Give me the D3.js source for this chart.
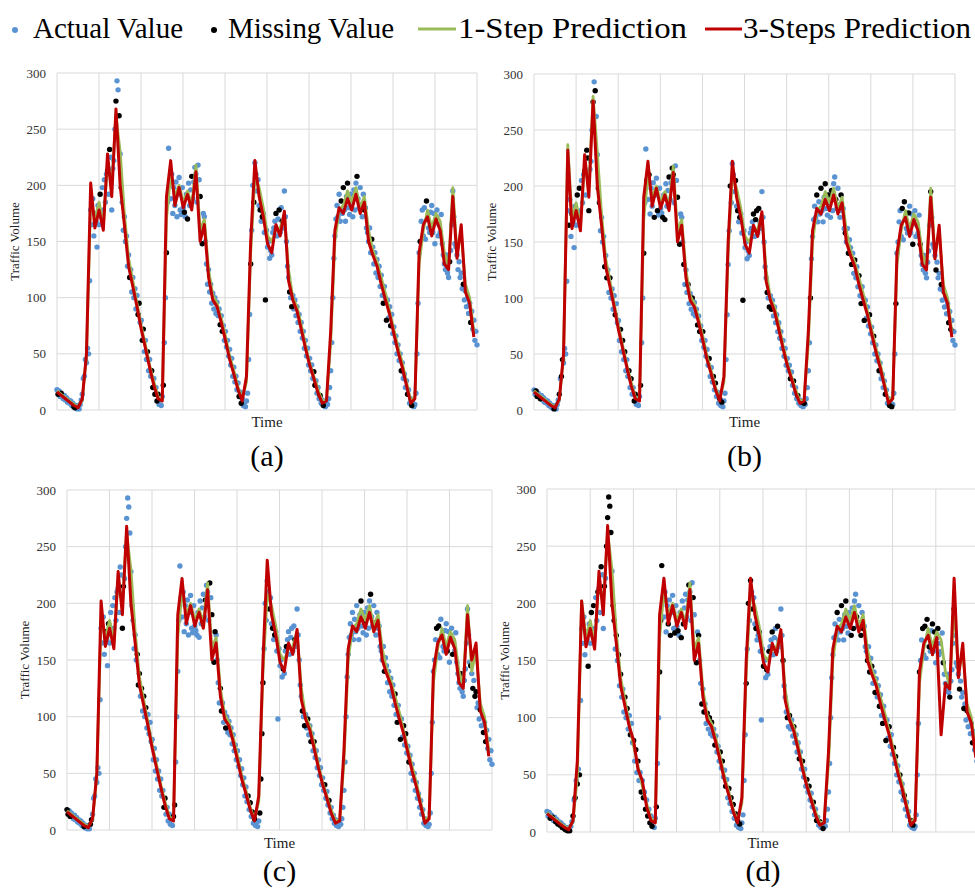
<!DOCTYPE html>
<html>
<head>
<meta charset="utf-8">
<script src="https://cdn.jsdelivr.net/npm/d3@7"></script>
<style>
  body { margin: 0; background: #fff; }
  text { font-family: "Liberation Serif", "Times New Roman", serif; }
</style>
</head>
<body>
<script>
// y axis ticks
const yTicks = [0, 50, 100, 150, 200, 250, 300];

// actual traffic volume, one value per time step (5 days, 400 steps)
const actual = [
  18, 14, 17, 12, 15, 13, 10, 13, 9, 11, 7, 9, 6, 8, 4, 6, 3, 2, 4, 1,
  2, 1, 5, 9, 14, 28, 30, 45, 42, 55, 50, 115, 178, 165, 188, 155, 175, 168, 145, 182,
  165, 192, 172, 198, 178, 205, 185, 210, 213, 192, 232, 225, 178, 215, 222, 250, 275, 293, 285, 262,
  228, 198, 185, 160, 172, 150, 155, 128, 138, 118, 125, 105, 118, 100, 108, 90, 102, 85, 95, 78,
  80, 62, 72, 52, 62, 45, 52, 35, 45, 30, 35, 20, 28, 14, 20, 8, 14, 5, 9, 4,
  12, 22, 60, 100, 140, 185, 233, 205, 188, 210, 175, 198, 182, 203, 172, 192, 207, 178, 174, 198,
  180, 176, 172, 192, 170, 202, 182, 196, 208, 188, 203, 216, 210, 185, 218, 205, 190, 160, 148, 175,
  172, 150, 130, 112, 125, 105, 112, 95, 104, 90, 100, 86, 96, 84, 90, 76, 84, 70, 75, 62,
  70, 56, 62, 48, 54, 40, 46, 30, 38, 25, 30, 18, 24, 12, 16, 6, 10, 4, 7, 3,
  8, 15, 45, 85, 130, 160, 200, 185, 220, 210, 195, 205, 182, 178, 168, 172, 175, 158, 98, 160,
  145, 150, 135, 142, 138, 158, 162, 168, 175, 155, 170, 178, 158, 180, 168, 162, 195, 172, 150, 128,
  118, 105, 100, 92, 102, 90, 98, 84, 92, 78, 85, 70, 78, 64, 70, 55, 62, 48, 55, 40,
  46, 35, 40, 28, 34, 22, 26, 15, 20, 10, 13, 6, 9, 4, 7, 3, 6, 5, 10, 20,
  35, 60, 100, 135, 155, 170, 182, 172, 192, 168, 186, 175, 198, 178, 168, 190, 202, 180, 174, 192,
  185, 172, 196, 178, 202, 208, 188, 180, 198, 183, 172, 192, 178, 180, 162, 158, 150, 162, 140, 152,
  145, 130, 140, 122, 134, 118, 128, 110, 120, 102, 95, 110, 100, 80, 98, 82, 92, 75, 85, 68,
  74, 60, 66, 50, 58, 44, 50, 35, 42, 28, 32, 20, 26, 14, 18, 6, 10, 4, 6, 3,
  5, 15, 50, 95, 140, 150, 168, 178, 155, 180, 152, 186, 170, 162, 158, 176, 182, 158, 175, 148,
  170, 178, 155, 165, 158, 174, 148, 138, 130, 125, 138, 122, 118, 132, 142, 165, 195, 172, 148, 145,
  138, 125, 132, 118, 122, 108, 112, 98, 106, 92, 100, 86, 95, 78, 88, 72, 80, 62, 70, 58
];

// predictions, one value every 4 time steps
const pred1 = [
  17, 14, 11, 8, 5, 3, 9, 48, 185, 170,
  185, 165, 220, 200, 262, 230, 175, 135, 115, 95,
  75, 58, 40, 25, 12, 9, 170, 210, 190, 200,
  185, 195, 182, 218, 160, 170, 125, 102, 95, 82,
  66, 48, 35, 20, 10, 25, 140, 208, 198, 180,
  155, 150, 160, 162, 175, 125, 100, 92, 76, 58,
  42, 30, 18, 8, 9, 60, 150, 178, 182, 195,
  185, 198, 180, 190, 160, 142, 132, 118, 104, 88,
  72, 56, 42, 25, 8, 12, 130, 160, 178, 162,
  175, 168, 140, 128, 198, 140, 158, 112, 100, 70
];
const pred3 = [
  16, 13, 10, 7, 4, 2, 10, 50, 202, 162,
  178, 160, 228, 190, 268, 200, 165, 128, 110, 92,
  72, 55, 38, 22, 10, 8, 190, 222, 182, 198,
  180, 192, 178, 212, 150, 165, 118, 98, 92, 78,
  62, 45, 32, 18, 8, 30, 150, 222, 190, 172,
  148, 140, 165, 155, 177, 115, 98, 88, 72, 55,
  40, 28, 15, 6, 8, 70, 160, 180, 175, 188,
  178, 192, 175, 185, 150, 138, 128, 112, 98, 85,
  68, 52, 38, 22, 6, 10, 140, 165, 172, 155,
  170, 160, 130, 125, 190, 135, 165, 105, 95, 65
];

// where the other panels' predictions differ: [prediction index, value]
const pred1EditsB = [[8, 237], [14, 280]];
const pred3EditsB = [[8, 232], [14, 276]];
const pred3EditsC = [[47, 238], [95, 150]];
const pred1EditsD = [[8, 202]];
const pred3EditsD = [[7, 62], [20, 80], [22, 45], [91, 85], [94, 222]];

// time steps shown as missing values in each panel
const missingA = [1, 4, 16, 17, 41, 48, 50, 56, 59, 61, 69, 77, 78, 81, 82, 86, 90, 91, 93, 95, 96, 101, 104, 121, 124, 128, 136, 138, 155, 157, 173, 175, 184, 187, 193, 195, 198, 208, 211, 214, 221, 223, 244, 245, 250, 253, 270, 272, 276, 285, 292, 299, 310, 313, 317, 327, 333, 337, 345, 351, 373, 386, 393];
const missingB = [2, 3, 6, 19, 24, 26, 27, 33, 36, 41, 43, 48, 50, 51, 52, 56, 58, 61, 62, 67, 69, 72, 77, 82, 84, 86, 90, 92, 95, 96, 101, 104, 107, 109, 114, 117, 122, 124, 128, 131, 132, 136, 138, 142, 146, 150, 155, 157, 160, 166, 170, 172, 176, 178, 186, 191, 193, 195, 198, 208, 210, 211, 213, 221, 223, 225, 243, 246, 250, 254, 256, 262, 268, 272, 276, 279, 282, 286, 291, 295, 298, 301, 304, 308, 310, 313, 318, 322, 327, 333, 337, 339, 343, 349, 351, 355, 359, 366, 376, 381, 386, 393, 395];
const missingC = [0, 1, 3, 16, 22, 23, 36, 39, 52, 53, 66, 67, 68, 70, 72, 74, 91, 92, 100, 101, 130, 134, 136, 138, 139, 144, 145, 149, 170, 172, 174, 176, 181, 182, 183, 184, 190, 193, 195, 203, 206, 214, 221, 223, 226, 229, 232, 242, 246, 276, 280, 285, 289, 298, 308, 310, 313, 316, 318, 321, 347, 349, 352, 357, 362, 370, 379, 381, 383, 384, 388, 391, 393];
const missingD = [3, 5, 8, 10, 12, 14, 16, 17, 19, 21, 24, 26, 28, 30, 38, 41, 43, 47, 50, 53, 55, 56, 57, 58, 59, 61, 62, 64, 66, 68, 72, 74, 77, 80, 82, 84, 87, 89, 91, 93, 95, 97, 101, 104, 105, 106, 112, 114, 118, 121, 124, 126, 131, 135, 138, 140, 143, 145, 148, 150, 152, 155, 160, 162, 165, 168, 170, 172, 174, 176, 178, 184, 186, 188, 190, 193, 196, 200, 203, 205, 208, 213, 218, 222, 224, 228, 233, 236, 240, 242, 246, 249, 252, 255, 268, 272, 276, 281, 283, 286, 290, 292, 296, 298, 300, 303, 307, 310, 313, 316, 320, 322, 326, 330, 336, 338, 344, 347, 349, 351, 353, 356, 358, 361, 366, 372, 376, 381, 385, 388, 393];

const colors = {actual: "#5a93d2", missing: "#000", p1: "#9bbb59", p3: "#c00000", grid: "#d9d9d9"};

const panels = [
  {label: "(a)", left: 57, right: 477, top: 73, bottom: 410, timeY: 427, capY: 466, missing: missingA, e1: [], e3: []},
  {label: "(b)", left: 534, right: 955, top: 74, bottom: 410, timeY: 427, capY: 466, missing: missingB, e1: pred1EditsB, e3: pred3EditsB},
  {label: "(c)", left: 67, right: 492, top: 490, bottom: 830, timeY: 848, capY: 881, missing: missingC, e1: [], e3: pred3EditsC},
  {label: "(d)", left: 547, right: 979, top: 489, bottom: 832, timeY: 848, capY: 881, missing: missingD, e1: pred1EditsD, e3: pred3EditsD}
];

const svg = d3.select("body").append("svg")
  .attr("width", 975)
  .attr("height", 888);

// legend
const leg = svg.append("g");
leg.append("circle").attr("cx", 15).attr("cy", 30).attr("r", 3).attr("fill", colors.actual);
leg.append("text").attr("x", 33).attr("y", 38).attr("textLength", 150).text("Actual Value");
leg.append("circle").attr("cx", 214).attr("cy", 30).attr("r", 3).attr("fill", colors.missing);
leg.append("text").attr("x", 228).attr("y", 38).attr("textLength", 166).text("Missing Value");
leg.append("line").attr("x1", 418).attr("x2", 456).attr("y1", 29).attr("y2", 29)
  .attr("stroke", colors.p1).attr("stroke-width", 3);
leg.append("text").attr("x", 458).attr("y", 38).attr("textLength", 229).text("1-Step Prediction");
leg.append("line").attr("x1", 705).attr("x2", 742).attr("y1", 29).attr("y2", 29)
  .attr("stroke", colors.p3).attr("stroke-width", 3);
leg.append("text").attr("x", 743).attr("y", 38).attr("textLength", 228).text("3-Steps Prediction");
leg.selectAll("text")
  .attr("lengthAdjust", "spacingAndGlyphs")
  .style("font-size", "29px").attr("fill", "#000");

function applyEdits(arr, edits) {
  const out = arr.slice();
  edits.forEach(([k, v]) => { out[k] = v; });
  return out;
}

panels.forEach(p => {
  const g = svg.append("g");

  const x = d3.scaleLinear().domain([0, actual.length - 1]).range([p.left, p.right]);
  const y = d3.scaleLinear().domain([0, 300]).range([p.bottom, p.top]);
  const gx = d3.scaleLinear().domain([0, 10]).range([p.left, p.right]);

  // grid
  g.selectAll(".hg").data(yTicks).enter().append("line")
    .attr("x1", p.left).attr("x2", p.right)
    .attr("y1", d => y(d)).attr("y2", d => y(d))
    .attr("stroke", colors.grid).attr("stroke-width", 1);
  g.selectAll(".vg").data(d3.range(11)).enter().append("line")
    .attr("x1", d => gx(d)).attr("x2", d => gx(d))
    .attr("y1", p.top).attr("y2", p.bottom)
    .attr("stroke", colors.grid).attr("stroke-width", 1);

  // y tick labels
  g.selectAll(".yt").data(yTicks).enter().append("text")
    .attr("x", p.left - 11)
    .attr("y", d => y(d) + 4.5)
    .attr("text-anchor", "end")
    .attr("fill", "#333")
    .style("font-size", "13px")
    .text(d => d);

  g.append("text")
    .attr("transform", `translate(${p.left - 38},${(p.top + p.bottom) / 2}) rotate(-90)`)
    .attr("text-anchor", "middle")
    .attr("fill", "#222")
    .style("font-size", "13px")
    .text("Traffic Volume");

  const cx = (p.left + p.right) / 2;
  g.append("text").attr("x", cx).attr("y", p.timeY).attr("text-anchor", "middle")
    .attr("fill", "#222").style("font-size", "15px").text("Time");
  g.append("text").attr("x", cx).attr("y", p.capY).attr("text-anchor", "middle")
    .attr("fill", "#000").style("font-size", "30px").text(p.label);

  // points
  const miss = new Set(p.missing);
  const pts = actual.map((v, i) => ({i, v, m: miss.has(i)}));
  g.selectAll(".av").data(pts.filter(d => !d.m)).enter().append("circle")
    .attr("cx", d => x(d.i)).attr("cy", d => y(d.v)).attr("r", 2.7)
    .attr("fill", colors.actual);
  g.selectAll(".mv").data(pts.filter(d => d.m)).enter().append("circle")
    .attr("cx", d => x(d.i)).attr("cy", d => y(d.v)).attr("r", 2.7)
    .attr("fill", colors.missing);

  // prediction lines
  const step = actual.length / pred3.length;
  const line = d3.line().x((d, k) => x(k * step)).y(d => y(d));
  g.append("path").datum(applyEdits(pred1, p.e1))
    .attr("d", line).attr("fill", "none")
    .attr("stroke", colors.p1).attr("stroke-width", 2.8).attr("stroke-linejoin", "round");
  g.append("path").datum(applyEdits(pred3, p.e3))
    .attr("d", line).attr("fill", "none")
    .attr("stroke", colors.p3).attr("stroke-width", 3).attr("stroke-linejoin", "round");
});
</script>
</body>
</html>
